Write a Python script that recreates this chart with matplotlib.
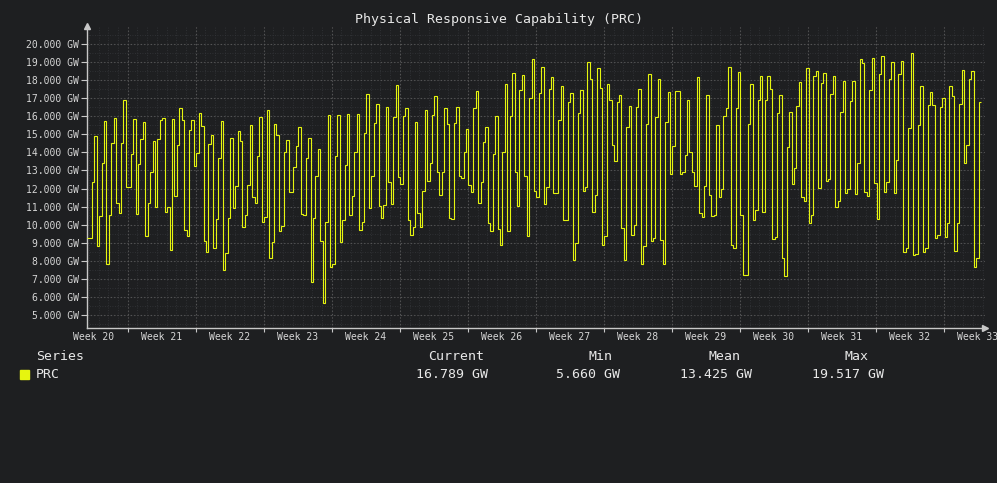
import numpy as np
import matplotlib
matplotlib.use("Agg")
import matplotlib.pyplot as plt
from matplotlib.patches import Rectangle

# ---------------- data ----------------
SAMPLE_HOURS = 6
# days of week 20 already elapsed when the series starts
START_INTO_FIRST_WEEK = 2.81
week_numbers = list(range(20, 34))

prc_gw = [
    # part 1
    9.24, 9.24, 12.35, 14.89, 8.81, 10.48, 13.44, 15.72, 7.85, 10.54, 14.52, 15.91,
    11.19, 10.63, 14.52, 16.93, 12.06, 12.06, 13.91, 15.85, 10.59, 13.35, 14.74, 15.67,
    9.37, 11.19, 12.91, 14.63, 10.96, 14.74, 15.82, 15.91, 10.72, 10.96, 8.59, 15.85,
    11.61, 14.43, 16.46, 15.78, 9.70, 9.37, 15.26, 15.82, 13.26, 13.96, 16.19, 15.48,
    9.11, 8.50, 14.48, 14.98, 8.69, 10.31, 13.68, 15.72, 7.48, 8.41, 10.35, 14.80,
    10.90, 12.15, 15.17,
    # part 2
    14.61, 9.89, 10.54, 12.20, 15.54, 11.56, 11.19, 13.81, 15.96, 10.17, 10.44, 16.37,
    8.13, 9.02, 15.57, 14.94, 9.65, 9.94, 14.05, 14.67, 11.80, 11.80, 13.22, 14.33,
    15.41, 10.59, 10.54, 13.68, 14.80, 6.83, 10.39, 12.72, 14.18, 9.11, 5.66, 10.17,
    16.06, 7.63, 7.80, 13.78, 16.06, 9.02, 10.26, 13.31, 16.13, 10.54, 11.60, 14.02,
    16.13, 9.69, 10.15, 15.07, 17.26, 10.91, 12.67, 15.63, 16.69, 11.06, 10.39, 11.09,
    16.52, 12.39,
    # part 3
    11.15, 15.96, 17.72, 12.63, 12.26, 16.04, 16.46, 10.26, 9.43, 9.85, 15.70, 10.65,
    9.85, 11.85, 16.37, 12.43, 13.41, 16.06, 17.11, 12.94, 11.67, 12.94, 16.44, 15.57,
    10.35, 10.31, 15.63, 16.52, 12.67, 12.57, 14.00, 15.30, 12.20, 11.80, 16.46, 17.41,
    11.19, 12.39, 14.56, 15.41, 10.11, 9.65, 13.93, 16.04, 9.74, 8.87, 14.05, 17.81,
    9.65, 16.04, 18.41, 12.91, 11.04, 17.43, 18.26, 12.70, 9.37, 17.02, 19.20, 11.89,
    11.56, 17.30,
    # part 4
    18.74, 11.15, 12.07, 17.52, 18.19, 11.74, 11.74, 15.82, 17.67, 10.26, 10.26, 16.80,
    17.30, 8.07, 8.96, 16.19, 17.45, 11.87, 12.11, 19.02, 18.07, 10.72, 11.65, 18.69,
    17.58, 8.87, 9.39, 17.80, 16.93, 14.43, 13.54, 16.80, 17.17, 9.80, 8.04, 15.41,
    16.59, 9.43, 9.98, 16.50, 17.52, 7.85, 8.81, 15.57, 18.35, 9.07, 9.24, 15.96,
    18.04, 9.15, 7.81, 15.70, 17.36, 12.80, 14.33, 17.39, 17.39, 12.80, 12.94, 13.87,
    16.89,
    # part 5
    14.02, 12.91, 12.15, 18.17, 10.63, 10.44, 12.15, 17.17, 11.65, 10.50, 10.54, 15.54,
    11.56, 11.96, 16.00, 16.46, 18.74, 8.87, 8.69, 16.46, 18.44, 10.54, 7.20, 7.20,
    15.57, 17.80, 10.26, 10.81, 16.93, 18.22, 10.72, 16.93, 18.22, 17.52, 9.18, 9.33,
    16.19, 17.17, 8.13, 7.15, 14.30, 16.24, 12.26, 13.13, 16.56, 17.91, 11.56, 11.29,
    18.69, 10.11, 10.54, 18.22, 18.50, 12.02, 17.85, 18.41, 12.43, 12.52, 17.21, 18.22,
    10.96, 11.29,
    # part 6
    16.24, 17.95, 11.74, 11.96, 16.83, 17.95, 11.70, 13.41, 19.20, 18.96, 11.80, 11.61,
    17.45, 19.24, 12.30, 10.30, 18.32, 19.33, 11.83, 12.39, 18.07, 19.00, 11.74, 13.59,
    18.32, 19.05, 8.50, 8.69, 15.35, 19.517, 8.31, 8.35, 15.54, 17.67, 8.50, 8.69,
    16.65, 17.34, 16.65, 9.24, 9.43, 16.52, 17.02, 9.30, 10.07, 17.70, 17.15, 8.56,
    10.11, 16.70, 18.55, 13.41, 14.43, 18.07, 18.50, 7.63, 8.13, 16.789,
]

series_name = "PRC"
stat_headers = ["Current", "Min", "Mean", "Max"]
stat_values = [16.789, 5.660, 13.425, 19.517]
y_ticks = list(range(5, 21))
title = "Physical Responsive Capability (PRC)"

# ---------------- style ----------------
BG = "#1e1f21"
LINE = "#e6f50f"
TXT = "#d6d6d6"
AXC = "#c8c8c8"
MAJ = "#575757"
MIN = "#34363a"
MONO = "DejaVu Sans Mono"

W, H = 997, 483
fig = plt.figure(figsize=(W / 100, H / 100), dpi=100)
fig.patch.set_facecolor(BG)

def fx(px):
    return px / W

def fy(py):
    return 1 - py / H

ax = fig.add_axes([fx(87), fy(328), fx(985) - fx(87), fy(26) - fy(328)])
ax.set_facecolor(BG)

n = len(prc_gw)
edges = np.arange(n + 1) * SAMPLE_HOURS / 24.0
x_max = edges[-1] * (985 - 87) / (981 - 87)
ax.set_xlim(0, x_max)
ax.set_ylim(4.28, 21.0)

# grid
week_starts = [-START_INTO_FIRST_WEEK + 7 * (w - week_numbers[0]) for w in week_numbers]
days = np.arange(np.ceil(-START_INTO_FIRST_WEEK), x_max + 1) - (START_INTO_FIRST_WEEK % 1)
for d in days:
    if 0 < d < x_max:
        ax.axvline(d, color=MIN, lw=0.6, ls=(0, (1, 2)), zorder=0)
for yv in np.arange(4.5, 21.0, 0.5):
    ax.axhline(yv, color=MIN, lw=0.6, ls=(0, (1, 2)), zorder=0)
for ws in week_starts:
    if 0 < ws < x_max:
        ax.axvline(ws, color=MAJ, lw=0.8, ls=(0, (1, 2)), zorder=1)
for yv in y_ticks:
    ax.axhline(yv, color=MAJ, lw=0.8, ls=(0, (1, 2)), zorder=1)

ax.stairs(prc_gw, edges, baseline=None, color=LINE, lw=0.8, zorder=3)

# axes
for s in ["top", "right"]:
    ax.spines[s].set_visible(False)
for s in ["left", "bottom"]:
    ax.spines[s].set_color(AXC)
    ax.spines[s].set_linewidth(1.0)
ax.plot([0], [1], marker="^", ms=4, color=AXC, transform=ax.transAxes, clip_on=False)
ax.plot([1], [0], marker=">", ms=4, color=AXC, transform=ax.transAxes, clip_on=False)

ax.set_yticks(y_ticks)
ax.set_yticklabels([f"{v:.3f} GW" for v in y_ticks], fontsize=7, family=MONO, color=TXT)
ax.tick_params(axis="y", length=4, width=0.8, color=AXC, pad=2)
vis_weeks = [ws for ws in week_starts if 0 < ws < x_max]
ax.set_xticks(vis_weeks)
ax.set_xticklabels([""] * len(vis_weeks))
ax.tick_params(axis="x", length=3, width=0.8, color=AXC)

for w, ws in zip(week_numbers, week_starts):
    ax.annotate(f"Week {w}", xy=(ws + 3.5, 0), xycoords=("data", "axes fraction"),
                xytext=(0, -6.6), textcoords="offset points", ha="center", va="center",
                fontsize=7, family=MONO, color=TXT, annotation_clip=False)

# title
fig.text(0.5, fy(19), title, ha="center", va="center", fontsize=9.5, family=MONO, color="#e8e8e8")

# legend table
fig.text(fx(36), fy(356), "Series", ha="left", va="center", fontsize=9.5, family=MONO, color="#e8e8e8")
fig.text(fx(36), fy(374), series_name, ha="left", va="center", fontsize=9.5, family=MONO, color="#e8e8e8")
fig.patches.append(Rectangle((fx(20), fy(379)), fx(9), fy(370) - fy(379),
                             transform=fig.transFigure, color=LINE, figure=fig))
head_cx = [456, 600, 724, 856]
val_cx = [452, 588, 716, 848]
for h, v, hc, vc in zip(stat_headers, stat_values, head_cx, val_cx):
    fig.text(fx(hc), fy(356), h, ha="center", va="center", fontsize=9.5, family=MONO, color="#e8e8e8")
    fig.text(fx(vc), fy(374), f"{v:.3f} GW", ha="center", va="center", fontsize=9.5, family=MONO, color="#e8e8e8")

fig.savefig("out.png", dpi=100, facecolor=BG)
